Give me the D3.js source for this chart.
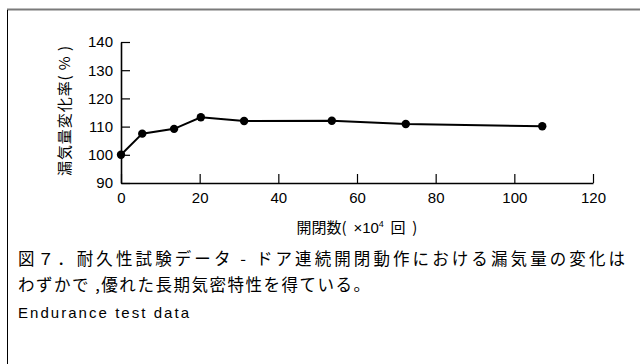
<!DOCTYPE html>
<html><head><meta charset="utf-8">
<script src="https://cdn.jsdelivr.net/npm/d3@7"></script>
<style>body{margin:0;background:#fff}svg{display:block}</style>
</head><body>
<svg id="c" width="640" height="364"></svg>
<script>
const cycles = [0, 5.4, 13.5, 20.3, 31.3, 53.6, 72.4, 107.1];
const leakRate = [100, 107.5, 109.2, 113.3, 112.0, 112.1, 110.9, 110.1];
const xTicks = [0, 20, 40, 60, 80, 100, 120];
const yTicks = [90, 100, 110, 120, 130, 140];
const yTitle = "漏気量変化率( % )";
const captionLines = ["図７．耐久性試験データ - ドア連続開閉動作における漏気量の変化は", "わずかで ,優れた長期気密特性を得ている。"];
const captionEn = "Endurance test data";

const svg = d3.select("#c");
const fontLatin = "Arial, 'Liberation Sans', sans-serif";
const fontJP = "'Noto Sans CJK JP', sans-serif";

// frame
svg.append("line").attr("x1",7).attr("x2",640).attr("y1",9.5).attr("y2",9.5).attr("stroke","#7a7a7a").attr("stroke-width",2);
svg.append("line").attr("x1",7.5).attr("x2",7.5).attr("y1",10).attr("y2",364).attr("stroke","#000").attr("stroke-width",1);

const x = d3.scaleLinear().domain([0,120]).range([121,593]);
const y = d3.scaleLinear().domain([90,140]).range([183,42]);

const xa = svg.append("g").attr("transform","translate(0,183)")
  .call(d3.axisBottom(x).tickValues(xTicks).tickSizeInner(-9).tickSizeOuter(0).tickPadding(8));
const ya = svg.append("g").attr("transform","translate(121,0)")
  .call(d3.axisLeft(y).tickValues(yTicks).tickSizeInner(-9).tickSizeOuter(0).tickPadding(8));
[xa,ya].forEach(a=>{
  a.select(".domain").attr("stroke","#000").attr("stroke-width",1.6);
  a.selectAll(".tick line").attr("stroke","#000").attr("stroke-width",1.2);
  a.selectAll(".tick text").attr("fill","#000").style("font-family",fontLatin).style("font-size","15px");
});
xa.selectAll(".tick text").attr("dy","0.8em");

const pts = cycles.map((c,i)=>[c, leakRate[i]]);
svg.append("path").datum(pts)
  .attr("d", d3.line().x(d=>x(d[0])).y(d=>y(d[1])))
  .attr("fill","none").attr("stroke","#000").attr("stroke-width",2);
svg.selectAll("circle.m").data(pts).join("circle").attr("class","m")
  .attr("cx",d=>x(d[0])).attr("cy",d=>y(d[1])).attr("r",4.2).attr("fill","#000");

// y title
svg.append("text").attr("transform","translate(70,111) rotate(-90)")
  .attr("text-anchor","middle").style("font-family",fontJP).style("font-size","15px")
  .attr("textLength",130).attr("lengthAdjust","spacing")
  .text(yTitle);

// x title
const xt = svg.append("text").attr("x",357).attr("y",233).attr("text-anchor","middle")
  .style("font-family",fontJP).style("font-size","15px").style("white-space","pre");
xt.append("tspan").text("開閉数(  ");
xt.append("tspan").style("font-family",fontLatin).text("×10");
xt.append("tspan").style("font-family",fontLatin).style("font-size","9px").attr("dy",-6).text("4");
xt.append("tspan").attr("dy",6).text("  回  )");

// caption
svg.append("text").attr("x",18).attr("y",265).style("font-family",fontJP).style("font-size","16.5px")
  .attr("textLength",607).attr("lengthAdjust","spacing").text(captionLines[0]);
svg.append("text").attr("x",18).attr("y",291).style("font-family",fontJP).style("font-size","16.5px")
  .attr("textLength",352).attr("lengthAdjust","spacing").text(captionLines[1]);
svg.append("text").attr("x",18).attr("y",318).style("font-family",fontLatin).style("font-size","15px")
  .attr("textLength",171).attr("lengthAdjust","spacing").text(captionEn);
</script>
</body></html>
